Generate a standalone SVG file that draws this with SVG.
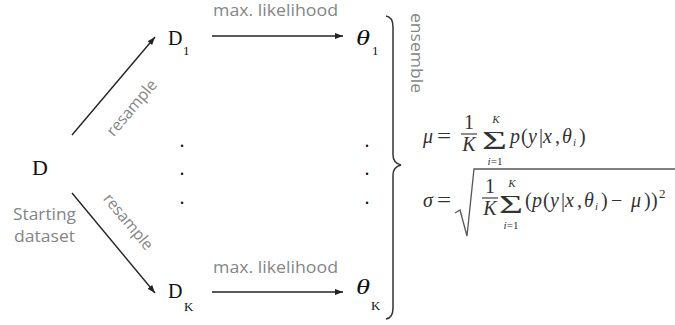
<svg xmlns="http://www.w3.org/2000/svg" width="675" height="325" viewBox="0 0 675 325">
<style>
.lbl{font-family:"Open Sans","Liberation Sans",sans-serif;font-size:16px;fill:#858585}
.sym{font-family:"Liberation Serif","DejaVu Serif",serif;fill:#111}
.m{font-family:"Liberation Serif","DejaVu Serif",serif;font-size:20px;fill:#333}
.mi{font-style:italic}
.ms{font-size:11px}
.edge{stroke:#222;stroke-width:1.4;fill:none}
</style>
<defs>
<marker id="ah" viewBox="0 0 8 6" refX="8" refY="3" markerWidth="8" markerHeight="6" markerUnits="userSpaceOnUse" orient="auto">
<path d="M0,0 L8,3 L0,6 z" fill="#222"/>
</marker>
</defs>
<rect width="675" height="325" fill="#fff"/>

<g id="connectors">
<line class="edge" x1="72" y1="135" x2="155" y2="37" marker-end="url(#ah)"/>
<line class="edge" x1="72" y1="193" x2="155" y2="293" marker-end="url(#ah)"/>
<line class="edge" x1="212" y1="36" x2="343" y2="36" marker-end="url(#ah)"/>
<line class="edge" x1="212" y1="292" x2="343" y2="292" marker-end="url(#ah)"/>
<text class="lbl" x="213" y="16" textLength="125" lengthAdjust="spacingAndGlyphs">max. likelihood</text>
<text class="lbl" x="213" y="273" textLength="125" lengthAdjust="spacingAndGlyphs">max. likelihood</text>
<text class="lbl" transform="translate(132,108) rotate(-49.7)" x="-34" y="5" textLength="68" lengthAdjust="spacingAndGlyphs">resample</text>
<text class="lbl" transform="translate(128,222) rotate(50.3)" x="-34" y="5" textLength="68" lengthAdjust="spacingAndGlyphs">resample</text>
</g>

<g id="node-D">
<text class="sym" x="32" y="175" font-size="22">D</text>
<text class="lbl" x="13" y="220" textLength="63" lengthAdjust="spacingAndGlyphs">Starting</text>
<text class="lbl" x="14" y="242" textLength="61" lengthAdjust="spacingAndGlyphs">dataset</text>
</g>

<g id="node-D1">
<text class="sym" x="168" y="45" font-size="20">D</text>
<text class="sym" x="183" y="55" font-size="13">1</text>
</g>

<g id="node-DK">
<text class="sym" x="168" y="298" font-size="20">D</text>
<text class="sym" x="184" y="311" font-size="13">K</text>
</g>

<g id="node-theta1">
<text class="sym" x="356" y="45" font-size="21" font-style="italic" textLength="14" lengthAdjust="spacingAndGlyphs">θ</text>
<text class="sym" x="372" y="55" font-size="13">1</text>
</g>

<g id="node-thetaK">
<text class="sym" x="356" y="294" font-size="21" font-style="italic" textLength="14" lengthAdjust="spacingAndGlyphs">θ</text>
<text class="sym" x="371" y="310" font-size="13">K</text>
</g>

<g id="dots" class="sym" font-size="20">
<text x="179.5" y="147">.</text>
<text x="179.5" y="175">.</text>
<text x="179.5" y="204">.</text>
<text x="364.5" y="147">.</text>
<text x="364.5" y="175">.</text>
<text x="364.5" y="204">.</text>
</g>

<g id="ensemble">
<path d="M386,16 Q393,17 393,27 L393,155 Q393,163 401,165 Q393,167 393,175 L393,308 Q393,318 386,319" fill="none" stroke="#333" stroke-width="1.5"/>
<text class="lbl" transform="translate(416,53) rotate(90)" x="-40" y="5" textLength="80" lengthAdjust="spacingAndGlyphs">ensemble</text>
</g>

<g id="formula-mu" class="m">
<text x="423" y="143" class="mi">μ</text>
<text x="437" y="143" textLength="14" lengthAdjust="spacingAndGlyphs">=</text>
<text x="469" y="129" text-anchor="middle">1</text>
<line x1="461" y1="134" x2="477" y2="134" stroke="#333" stroke-width="1.1"/>
<text x="469" y="151" text-anchor="middle" class="mi">K</text>
<text x="482" y="149" font-size="26" textLength="25" lengthAdjust="spacingAndGlyphs">Σ</text>
<text x="496" y="123" text-anchor="middle" class="mi ms">K</text>
<text x="495" y="165" text-anchor="middle" class="ms"><tspan class="mi">i</tspan>=1</text>
<text y="143"><tspan x="510" class="mi">p</tspan><tspan x="521">(</tspan><tspan x="528" class="mi">y</tspan><tspan x="539">|</tspan><tspan x="543" class="mi">x</tspan><tspan x="555">,</tspan><tspan x="562" class="mi">θ</tspan><tspan x="573" dy="3" class="mi ms">i</tspan><tspan x="579" dy="-3">)</tspan></text>
</g>

<g id="formula-sigma" class="m">
<text x="423" y="207" class="mi">σ</text>
<text x="437" y="207" textLength="14" lengthAdjust="spacingAndGlyphs">=</text>
<path d="M455,213 L460,210 L467,236 L474,169 L675,169" fill="none" stroke="#555" stroke-width="1.3"/>
<text x="490" y="193" text-anchor="middle">1</text>
<line x1="482" y1="198" x2="498" y2="198" stroke="#333" stroke-width="1.1"/>
<text x="490" y="215" text-anchor="middle" class="mi">K</text>
<text x="499" y="213" font-size="26" textLength="24" lengthAdjust="spacingAndGlyphs">Σ</text>
<text x="512" y="187" text-anchor="middle" class="mi ms">K</text>
<text x="511" y="229" text-anchor="middle" class="ms"><tspan class="mi">i</tspan>=1</text>
<text y="207"><tspan x="525">(</tspan><tspan x="532" class="mi">p</tspan><tspan x="543">(</tspan><tspan x="550" class="mi">y</tspan><tspan x="561">|</tspan><tspan x="565" class="mi">x</tspan><tspan x="577">,</tspan><tspan x="584" class="mi">θ</tspan><tspan x="595" dy="3" class="mi ms">i</tspan><tspan x="601" dy="-3">)</tspan><tspan x="611">−</tspan><tspan x="631" class="mi">μ</tspan><tspan x="644">)</tspan><tspan x="651">)</tspan><tspan x="659" dy="-9" font-size="13">2</tspan></text>
</g>
</svg>
